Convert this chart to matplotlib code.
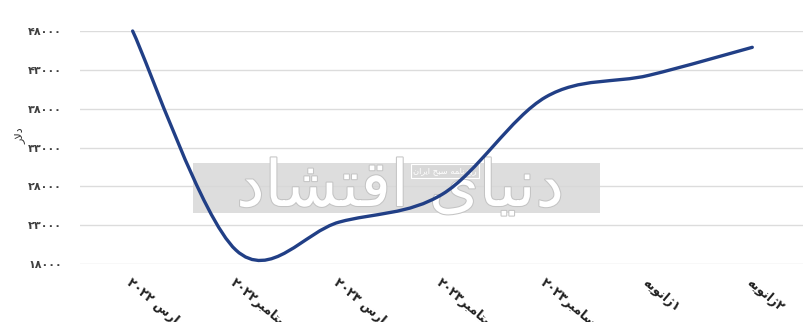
import numpy as np
import matplotlib.pyplot as plt
import matplotlib.patheffects as pe
from matplotlib.path import Path
from matplotlib.patches import PathPatch, Rectangle

# x categories (Persian, pre-shaped in visual order since matplotlib has no bidi shaping)
labels = [
    "۲۰۲۲ \uFEB1\uFEAD\uFE8E\uFEE3",                      # مارس ۲۰۲۲
    "۲۰۲۲\uFEAE\uFE92\uFEE3\uFE8E\uFE98\uFB59\uFEB3",     # سپتامبر۲۰۲۲
    "۲۰۲۳ \uFEB1\uFEAD\uFE8E\uFEE3",                      # مارس ۲۰۲۳
    "۲۰۲۳\uFEAE\uFE92\uFEE3\uFE8E\uFE98\uFB59\uFEB3",     # سپتامبر۲۰۲۳
    "۲۰۲۳\uFEAE\uFE92\uFEE3\uFE8E\uFEB3\uFEA9",           # دسامبر۲۰۲۳
    "\uFEEA\uFBFE\uFEEE\uFEE7\uFE8D\uFB8A۱",              # ۱ژانویه
    "\uFEEA\uFBFE\uFEEE\uFEE7\uFE8D\uFB8A۲",              # ۲ژانویه
]
prices = [48000, 19800, 23400, 27000, 39500, 42300, 45900]
yticks = [18000, 23000, 28000, 33000, 38000, 43000, 48000]
ytick_labels = ["۱۸۰۰۰", "۲۳۰۰۰", "۲۸۰۰۰", "۳۳۰۰۰", "۳۸۰۰۰", "۴۳۰۰۰", "۴۸۰۰۰"]
ylabel = "\uFEAD\uFEFB\uFEA9"  # دلار
watermark = "\uFEA9\uFE8E\uFEB8\uFE98\uFED7\uFE8D \uFBFC\uFE8E\uFBFF\uFEE7\uFEA9"  # دنیای اقتصاد
sub_mark = "\uFEE5\uFE8D\uFEAD\uFBFE\uFE8D \uFEA2\uFE92\uFEB3 \uFEEA\uFEE4\uFE8E\uFEE7\uFEAF\uFEED\uFEAD"  # روزنامه صبح ایران

plt.rcParams['font.family'] = ['DejaVu Sans']

fig = plt.figure(figsize=(8.11, 3.22), dpi=100)
ax = fig.add_axes([0.0986, 0.180, 0.8914, 0.7237])

x = np.arange(len(prices), dtype=float)
y = np.array(prices, dtype=float)

# smoothed line (excel style bezier through the points)
verts = [(x[0], y[0])]
codes = [Path.MOVETO]
n = len(x)
for i in range(n - 1):
    p0 = np.array([x[max(i - 1, 0)], y[max(i - 1, 0)]])
    p1 = np.array([x[i], y[i]])
    p2 = np.array([x[i + 1], y[i + 1]])
    p3 = np.array([x[min(i + 2, n - 1)], y[min(i + 2, n - 1)]])
    c1 = p1 + (p2 - p0) / 6
    c2 = p2 - (p3 - p1) / 6
    verts += [tuple(c1), tuple(c2), tuple(p2)]
    codes += [Path.CURVE4] * 3
ax.add_patch(PathPatch(Path(verts, codes), fill=False, edgecolor='#213f86',
                       lw=2.4, capstyle='round', zorder=3, clip_on=False))

ax.set_xlim(-0.51, 6.49)
ax.set_ylim(18000, 48000)
ax.set_yticks(yticks)
ax.set_yticklabels(ytick_labels, fontsize=8, fontweight='bold', color='#404040')
ax.set_xticks(x)
ax.set_xticklabels(labels, fontsize=9, fontweight='bold', color='#202020',
                   rotation=-40, ha='left', va='top', rotation_mode='anchor')
ax.tick_params(length=0, axis='y', pad=13)
ax.tick_params(length=0, axis='x', pad=9)
ax.grid(axis='y', color='#dcdcdc', lw=1)
ax.set_axisbelow(True)
for s in ax.spines.values():
    s.set_visible(False)

fig.text(0.024, 0.58, ylabel, rotation=90, fontsize=8, color='#303030',
         ha='center', va='center')

# watermark (under the line)
ax.add_patch(Rectangle((193 / 811, 1 - 213 / 322), 407 / 811, 50 / 322,
                       transform=fig.transFigure, facecolor='#d8d8d8',
                       edgecolor='none', alpha=0.85, zorder=1.5, clip_on=False))
ax.text(400 / 811, 1 - 188 / 322, watermark, fontsize=46, color='white',
        ha='center', va='center', zorder=2, transform=fig.transFigure,
        path_effects=[pe.withStroke(linewidth=1.5, foreground='#c4c4c4')])
ax.text(445 / 811, 1 - 171 / 322, sub_mark, fontsize=6, color='white',
        ha='center', va='center', zorder=2.5, transform=fig.transFigure,
        bbox=dict(boxstyle='square,pad=0.3', fc='#d8d8d8', ec='white', lw=0.8))

fig.savefig('out.png', dpi=100)
